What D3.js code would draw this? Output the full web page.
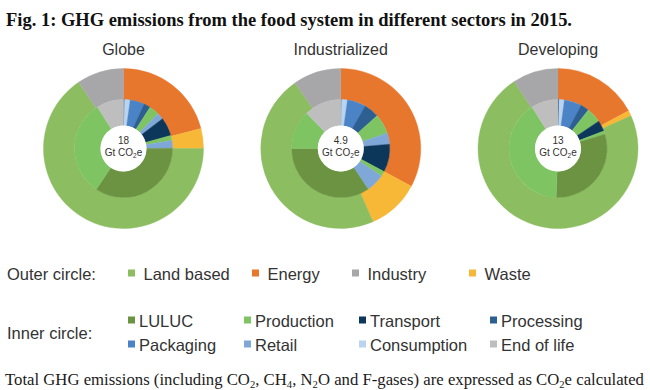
<!DOCTYPE html>
<html>
<head>
<meta charset="utf-8">
<script src="https://cdn.jsdelivr.net/npm/d3@7"></script>
<style>
  html, body { margin: 0; padding: 0; background: #fff; }
  svg { display: block; }
</style>
</head>
<body>
<div id="chart"></div>
<script>
// charts and their totals (Gt CO2e)
var charts = ["Globe", "Industrialized", "Developing"];
var totals = ["18", "4.9", "13"];

// outer circle, clockwise from 12 o'clock (share in %)
var outerCats = ["Energy", "Waste", "Land based", "Industry"];
var outerGlobe = [21.0, 4.0, 65.5, 9.5];
var outerIndustrialized = [32.8, 10.6, 46.9, 9.7];
var outerDeveloping = [17.2, 1.1, 72.5, 9.2];

// inner circle, clockwise from 12 o'clock (share in %)
var innerGlobeStages = ["Processing", "Consumption", "Packaging", "Processing", "Production", "Retail", "Transport", "Production", "Retail", "LULUC", "Production", "End of life"];
var innerGlobeValues = [0.4, 1.8, 4.7, 2.2, 3.3, 2.2, 6.1, 1.7, 2.5, 34.4, 31.7, 8.9];
var innerIndustrializedStages = ["Processing", "Consumption", "Packaging", "Processing", "Production", "Retail", "Transport", "Production", "Retail", "LULUC", "Production", "End of life"];
var innerIndustrializedValues = [0.3, 1.9, 6.1, 5.0, 6.7, 3.6, 9.2, 1.7, 6.1, 34.4, 12.8, 12.2];
var innerDevelopingStages = ["Processing", "Consumption", "Packaging", "Processing", "Production", "Transport", "Production", "LULUC", "Production", "End of life"];
var innerDevelopingValues = [0.4, 1.7, 5.7, 2.8, 5.0, 3.6, 1.1, 30.3, 40.5, 8.9];

// legend
var outerLegend = ["Land based", "Energy", "Industry", "Waste"];
var innerLegend = ["LULUC", "Production", "Transport", "Processing", "Packaging", "Retail", "Consumption", "End of life"];

var outerData = [outerGlobe, outerIndustrialized, outerDeveloping];
var innerStages = [innerGlobeStages, innerIndustrializedStages, innerDevelopingStages];
var innerValues = [innerGlobeValues, innerIndustrializedValues, innerDevelopingValues];

var color = d3.scaleOrdinal()
    .domain(outerLegend.concat(innerLegend))
    .range(["#8cbd60", "#e8772e", "#a7a7a9", "#f7b838",
            "#6b9342", "#7fc463", "#0c375a", "#2e5f92", "#4a84c6", "#7fa7d8", "#bad3ee", "#bebebf"]);

var w = 650;
var h = 390;

var svg = d3.select("#chart")
    .append("svg")
    .attr("width", w)
    .attr("height", h);

// title
svg.append("text")
    .attr("x", 6)
    .attr("y", 26)
    .attr("font-family", "Liberation Serif")
    .attr("font-weight", "bold")
    .attr("font-size", "18.5px")
    .attr("textLength", 566)
    .attr("lengthAdjust", "spacingAndGlyphs")
    .attr("fill", "#111")
    .text("Fig. 1: GHG emissions from the food system in different sectors in 2015.");

var xCenter = d3.scalePoint().domain(charts).range([123.5, 558]);
var cy = 148.5;

var rHole = 23;
var rMid = 49;
var rOuter = 80;

var pie = d3.pie().sort(null).value(function(d) { return d.v; });
var arcOuter = d3.arc().innerRadius(rMid).outerRadius(rOuter);
var arcInner = d3.arc().innerRadius(rHole).outerRadius(rMid);

charts.forEach(function(name, i) {
    var g = svg.append("g")
        .attr("transform", "translate(" + xCenter(name) + "," + cy + ")");

    var outer = outerCats.map(function(c, j) { return {k: c, v: outerData[i][j]}; });
    var inner = innerStages[i].map(function(c, j) { return {k: c, v: innerValues[i][j]}; });

    g.selectAll("path.outer")
        .data(pie(outer))
        .enter()
        .append("path")
        .attr("class", "outer")
        .attr("d", arcOuter)
        .attr("fill", function(d) { return color(d.data.k); })
        .attr("stroke", function(d) { return color(d.data.k); })
        .attr("stroke-width", 0.4);

    g.selectAll("path.inner")
        .data(pie(inner))
        .enter()
        .append("path")
        .attr("class", "inner")
        .attr("d", arcInner)
        .attr("fill", function(d) { return color(d.data.k); })
        .attr("stroke", function(d) { return color(d.data.k); })
        .attr("stroke-width", 0.4);

    g.append("circle")
        .attr("r", rHole)
        .attr("fill", "#fff");

    // chart name
    g.append("text")
        .attr("x", 0)
        .attr("y", 55 - cy)
        .attr("text-anchor", "middle")
        .attr("font-family", "Liberation Sans")
        .attr("font-size", "16px")
        .attr("fill", "#333")
        .text(name);

    g.append("text")
        .attr("y", -4.5)
        .attr("text-anchor", "middle")
        .attr("font-family", "Liberation Sans")
        .attr("font-size", "10px")
        .attr("fill", "#333")
        .text(totals[i]);

    var t = g.append("text")
        .attr("y", 7)
        .attr("text-anchor", "middle")
        .attr("font-family", "Liberation Sans")
        .attr("font-size", "10px")
        .attr("fill", "#333");
    t.append("tspan").text("Gt CO");
    t.append("tspan").attr("font-size", "6.5px").attr("dy", 2).text("2");
    t.append("tspan").attr("dy", -2).text("e");
});

// legend
var legend = svg.append("g")
    .attr("font-family", "Liberation Sans")
    .attr("font-size", "16.5px")
    .attr("fill", "#333");

legend.append("text").attr("x", 7).attr("y", 280).text("Outer circle:");
legend.append("text").attr("x", 7).attr("y", 339).text("Inner circle:");

var outerCols = [128, 252, 352, 469];
var innerCols = [128, 244, 359, 490];

var lo = legend.selectAll("g.lo")
    .data(outerLegend)
    .enter()
    .append("g")
    .attr("class", "lo")
    .attr("transform", function(d, i) { return "translate(" + outerCols[i] + ",280)"; });
lo.append("rect")
    .attr("x", 0).attr("y", -10.5)
    .attr("width", 7).attr("height", 7)
    .attr("fill", function(d) { return color(d); });
lo.append("text")
    .attr("x", 15.5)
    .text(function(d) { return d; });

var li = legend.selectAll("g.li")
    .data(innerLegend)
    .enter()
    .append("g")
    .attr("class", "li")
    .attr("transform", function(d, i) {
        return "translate(" + innerCols[i % 4] + "," + (i < 4 ? 327 : 351) + ")";
    });
li.append("rect")
    .attr("x", 0).attr("y", -10.5)
    .attr("width", 7).attr("height", 7)
    .attr("fill", function(d) { return color(d); });
li.append("text")
    .attr("x", 11)
    .text(function(d) { return d; });

// caption line
var cap = svg.append("text")
    .attr("x", 5)
    .attr("y", 385)
    .attr("font-family", "Liberation Serif")
    .attr("font-size", "16.5px")
    .attr("fill", "#1b1b1b")
    .attr("textLength", 639)
    .attr("lengthAdjust", "spacingAndGlyphs");
var capParts = [["Total GHG emissions (including CO", 0], ["2", 1], [", CH", 0], ["4", 1], [", N", 0], ["2", 1],
                ["O and F-gases) are expressed as CO", 0], ["2", 1], ["e calculated", 0]];
capParts.forEach(function(p, i) {
    var prevSub = i > 0 && capParts[i - 1][1];
    cap.append("tspan")
        .attr("font-size", p[1] ? "10.5px" : null)
        .attr("dy", p[1] ? 2.5 : (prevSub ? -2.5 : null))
        .text(p[0]);
});
</script>
</body>
</html>
